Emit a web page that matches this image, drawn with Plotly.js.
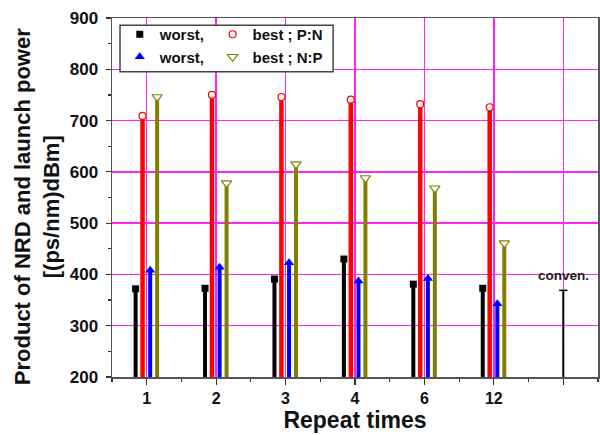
<!DOCTYPE html>
<html><head><meta charset="utf-8">
<script src="https://cdn.plot.ly/plotly-3.0.1.min.js"></script>
<style>body{margin:0;background:#fff}#c{width:600px;height:435px}</style>
</head><body><div id="c"></div>
<script>
const categories = ['1','2','3','4','6','12'];
const worstPN = [372, 373, 391, 430, 381, 373];   // black squares
const bestPN  = [709, 750, 746, 741, 732, 726];   // red open circles
const worstNP = [408, 414, 423, 387, 392, 343];   // blue triangles
const bestNP  = [746, 578, 615, 588, 568, 461];   // olive down-triangles
const convenLabel = 'conven.';
const convenValue = [369];
const yBase = 200;
const yTitle = 'Product of NRD and launch power<br>[(ps/nm)dBm]';
const xTitle = 'Repeat times';

const F = 'Liberation Sans, Arial, sans-serif';
const pos = categories.map((c,i)=>i+1);

function stick(name, vals, off, color, symbol, size, fill, thick, lw, leg){
  return {
    type:'scatter', mode:'markers', name:name, legend:leg,
    x: pos.map(p=>p+off), y: vals,
    marker:{symbol:symbol, size:size, color:fill, line:{color:color, width:lw}},
    error_y:{type:'data', symmetric:false, array: vals.map(()=>0),
             arrayminus: vals.map(v=>v-yBase), color:color, thickness:thick, width:0},
    cliponaxis:false
  };
}

const traces = [
  stick('worst,', worstPN, -0.16, '#000000', 'square', 7, '#000000', 4, 0, 'legend'),
  stick('worst,', worstNP, 0.05, '#0000ff', 'triangle-up', 9, '#0000ff', 4, 0, 'legend'),
  stick('best ; P:N', bestPN, -0.06, '#ff0000', 'circle', 7, '#ffffff', 4.5, 1.2, 'legend2'),
  stick('best ; N:P', bestNP, 0.15, '#808000', 'triangle-down', 9, '#ffffff', 4, 1.2, 'legend2'),
  {type:'scatter', mode:'markers', showlegend:false, x:[categories.length+1], y:convenValue,
   marker:{symbol:'line-ew', size:6, line:{color:'#000', width:1.5}},
   error_y:{type:'data', symmetric:false, array:[0], arrayminus: convenValue.map(v=>v-yBase), color:'#000', thickness:2, width:0}}
];

const legFont = {family:F, size:15, weight:'bold', color:'#111'};
const layout = {
  width:600, height:435,
  margin:{l:112, r:2, t:18, b:58},
  paper_bgcolor:'#fff', plot_bgcolor:'#fff',
  font:{family:F, color:'#111'},
  showlegend:true,
  legend:{orientation:'v', x:0.016, y:1.0, xanchor:'left', yanchor:'top',
    bgcolor:'rgba(0,0,0,0)', borderwidth:0, font:legFont, itemwidth:30, tracegroupgap:0},
  legend2:{orientation:'v', x:0.207, y:1.0, xanchor:'left', yanchor:'top',
    bgcolor:'rgba(0,0,0,0)', borderwidth:0, font:legFont, itemwidth:30, tracegroupgap:0},
  shapes:[{type:'rect', xref:'paper', yref:'paper', x0:0.0165, x1:0.455, y0:0.85, y1:0.98,
    line:{color:'#444', width:1.5}, fillcolor:'#fff', layer:'above'}],
  xaxis:{range:[0.5, categories.length+1.5], tickmode:'array',
    tickvals: pos.concat([categories.length+1]), ticktext: categories.concat(['']),
    ticks:'outside', ticklen:6, tickwidth:1.2, tickcolor:'#333',
    minor:{dtick:0.5, tick0:0.5, ticks:'outside', ticklen:3, tickcolor:'#333', showgrid:false},
    showline:true, linecolor:'#555', linewidth:1.5, mirror:true,
    showgrid:true, gridcolor:'#ff22ff', gridwidth:1.5, zeroline:false,
    tickfont:{family:F, size:16, weight:'bold', color:'#111'},
    title:{text:xTitle, font:{family:F, size:23, weight:'bold', color:'#111'}, standoff:6}},
  yaxis:{range:[200,900], dtick:100, tick0:0,
    ticks:'outside', ticklen:5, tickwidth:1.2, tickcolor:'#333', ticklabelstandoff:4,
    minor:{dtick:50, ticks:'outside', ticklen:3, tickcolor:'#333', showgrid:false},
    showline:true, linecolor:'#555', linewidth:1.5, mirror:true,
    showgrid:true, gridcolor:'#ff22ff', gridwidth:1.5, zeroline:false,
    tickfont:{family:F, size:17, weight:'bold', color:'#111'}},
  xaxis2:{overlaying:'x', side:'top', anchor:'y', range:[0,486], tick0:48, dtick:97.4,
    ticks:'inside', ticklen:5, tickcolor:'#333', showticklabels:false, showgrid:false, zeroline:false, showline:false,
    minor:{dtick:48.7, tick0:48, ticks:'inside', ticklen:3, tickcolor:'#333', showgrid:false}},
  yaxis2:{overlaying:'y', side:'right', anchor:'x', range:[200,900], dtick:100,
    ticks:'inside', ticklen:5, tickcolor:'#333', showticklabels:false, showgrid:false, zeroline:false, showline:false,
    minor:{dtick:50, ticks:'inside', ticklen:3, tickcolor:'#333', showgrid:false}},
  annotations:[
    {x:categories.length+1, y:397, xref:'x', yref:'y', text:convenLabel, showarrow:false,
     xanchor:'center', yanchor:'middle', font:{family:F, size:13.5, weight:'bold', color:'#222'}},
    {x:-0.154, y:0.4735, xref:'paper', yref:'paper', text:yTitle, showarrow:false, textangle:-90,
     xanchor:'center', yanchor:'middle', font:{family:F, size:22, weight:'bold', color:'#111'}}
  ]
};

Plotly.newPlot('c', traces, layout, {displayModeBar:false, staticPlot:true});
</script></body></html>
